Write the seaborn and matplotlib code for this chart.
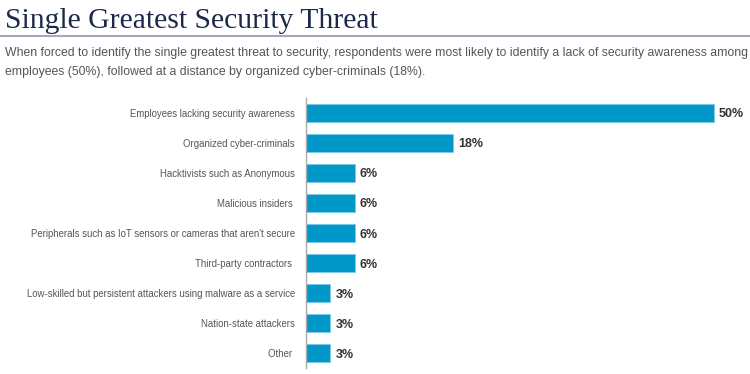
import pandas as pd
import seaborn as sns
import matplotlib.pyplot as plt
from matplotlib.lines import Line2D

categories = [
    "Employees lacking security awareness",
    "Organized cyber-criminals",
    "Hacktivists such as Anonymous",
    "Malicious insiders ",
    "Peripherals such as IoT sensors or cameras that aren't secure",
    "Third-party contractors ",
    "Low-skilled but persistent attackers using malware as a service",
    "Nation-state attackers",
    "Other ",
]
values = [50, 18, 6, 6, 6, 6, 3, 3, 3]
value_labels = ["50%", "18%", "6%", "6%", "6%", "6%", "3%", "3%", "3%"]

title = "Single Greatest Security Threat"
subtitle = ("When forced to identify the single greatest threat to security, respondents were most likely to identify a lack of security awareness among\n"
            "employees (50%), followed at a distance by organized cyber-criminals (18%).")

df = pd.DataFrame({"threat": categories, "pct": values})

sns.set_style("white")
plt.rcParams["font.family"] = ["Liberation Sans", "DejaVu Sans"]

fig = plt.figure(figsize=(7.5, 3.74), dpi=100)
ax = fig.add_axes([0.408, 0.016, 0.58, 0.722])

sns.barplot(df, x="pct", y="threat", orient="h", color="#0097c9",
            saturation=1, width=0.57, edgecolor="#7ccbe6", linewidth=0.6, ax=ax)

for i, (v, lab) in enumerate(zip(values, value_labels)):
    ax.text(v + 0.6, i + 0.05, lab, va="center", ha="left", fontsize=9,
            fontweight="bold", color="#333333")

ax.set_xlim(0, 53.3)
ax.set_ylim(len(categories) - 0.5, -0.5)
ax.set_xlabel("")
ax.set_ylabel("")
ax.set_xticks([])
for s in ["top", "right", "bottom"]:
    ax.spines[s].set_visible(False)
ax.spines["left"].set_color("#aaaaaa")
ax.spines["left"].set_linewidth(1)
ax.tick_params(axis="y", which="major", length=0, pad=8, labelsize=6.9,
               labelcolor="#555555")
ax.set_yticks([i + 0.5 for i in range(-1, len(categories))], minor=True)
ax.tick_params(axis="y", which="minor", length=4, color="#aaaaaa", direction="out")

fig.text(0.007, 0.978, title, ha="left", va="top", fontsize=21.3,
         family="Liberation Serif", color="#1b2a4a")
fig.add_artist(Line2D([0, 1], [0.903, 0.903], color="#a4a8b8", lw=1.5,
                      transform=fig.transFigure))
fig.text(0.007, 0.873, subtitle, ha="left", va="top", fontsize=8.85,
         color="#555555", linespacing=1.75)

fig.savefig("out.png", dpi=100)
